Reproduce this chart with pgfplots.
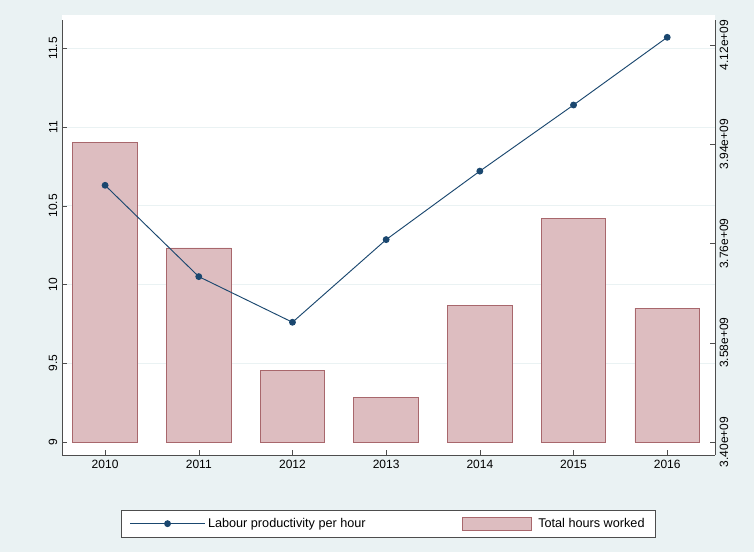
\documentclass[border=0pt]{standalone}
\usepackage{pgfplots}
\pgfplotsset{compat=1.18}
\usepackage{fontspec}
\setmainfont{Liberation Sans}
\definecolor{bgc}{HTML}{EAF2F3}
\definecolor{navy}{HTML}{1A476F}
\definecolor{barf}{HTML}{DDBDC0}
\definecolor{bard}{HTML}{A8676C}
\definecolor{axc}{HTML}{4D4D4D}
\begin{document}
\begin{tikzpicture}
\clip (0,0) rectangle (565.5pt,414pt);
\fill[bgc] (0,0) rectangle (565.5pt,414pt);
\fill[white] (46.5pt,72.75pt) rectangle ++(489.75pt,330pt);
\begin{axis}[at={(46.5pt,72.75pt)}, anchor=south west, scale only axis,
  width=489.75pt, height=326.25pt,
  xmin=-0.46, xmax=6.51, ymin=-0.0236, ymax=0.7655,
  axis x line=none, axis y line*=right, axis line style={axc},
  ytick={0,0.18,0.36,0.54,0.72},
  yticklabels={3.40e+09,3.58e+09,3.76e+09,3.94e+09,4.12e+09},
  extra y ticks={0.1428,0.2856,0.4284,0.5712,0.714}, extra y tick labels={},
  extra y tick style={grid=major, major tick length=0pt, grid style={line width=0.6pt, color=bgc}},
  yticklabel style={rotate=90, anchor=north, font=\fontsize{9}{10}\selectfont, text=black},
  major tick length=4pt, tick style={axc},
  /pgf/number format/assume math mode=true]
\addplot[ybar, bar width=0.69, fill=barf, draw=bard, line width=0.6pt] coordinates {
(0,0.544) (1,0.352) (2,0.129) (3,0.080) (4,0.247) (5,0.406) (6,0.243)};
\end{axis}
\begin{axis}[at={(46.5pt,72.75pt)}, anchor=south west, scale only axis,
  width=489.75pt, height=326.25pt,
  xmin=-0.46, xmax=6.51, ymin=8.917, ymax=11.68,
  axis x line*=bottom, axis y line*=left, axis line style={axc},
  xtick={0,...,6}, xticklabels={2010,2011,2012,2013,2014,2015,2016},
  ytick={9,9.5,10,10.5,11,11.5},
  yticklabels={9,9.5,10,10.5,11,11.5},
  yticklabel style={rotate=90, anchor=south, font=\fontsize{9}{10}\selectfont},
  xticklabel style={font=\fontsize{9}{10}\selectfont},
  major tick length=4pt, tick style={axc},
  /pgf/number format/assume math mode=true,
  legend columns=2,
  legend style={at={(0.5,-0.126)}, anchor=north, draw=axc, fill=white,
    font=\fontsize{9.5}{11}\selectfont, inner xsep=6pt, inner ysep=4pt,
    /tikz/every even column/.append style={column sep=70pt}},
  legend cell align=left,
  legend image code/.code={\draw[#1] (0pt,0pt) -- (56pt,0pt); \draw[#1, only marks] plot coordinates {(28pt,0pt)};}]
\addplot[navy, line width=0.7pt, mark=*, mark size=2.2pt, mark options={fill=navy}] coordinates {
(0,10.63) (1,10.05) (2,9.76) (3,10.285) (4,10.72) (5,11.14) (6,11.57)};
\addlegendentry{Labour productivity per hour}
\addlegendimage{legend image code/.code={\draw[fill=barf, draw=bard] (0pt,-5pt) rectangle (52pt,5pt);}}
\addlegendentry{\hspace{3pt}Total hours worked\hspace{42pt}}
\end{axis}
\end{tikzpicture}
\end{document}
